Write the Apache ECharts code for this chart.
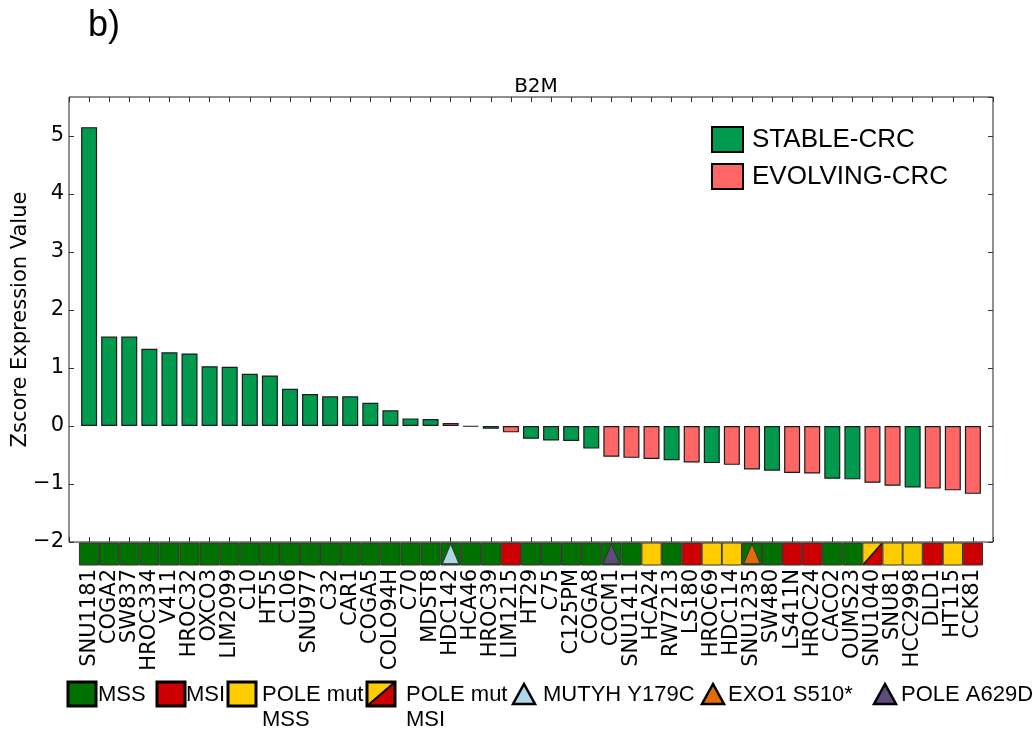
<!DOCTYPE html>
<html>
<head>
<meta charset="utf-8">
<script src="https://cdn.jsdelivr.net/npm/echarts@6/dist/echarts.min.js"></script>
<style>
html,body{margin:0;padding:0;background:#fff;}
#chart{width:1033px;height:731px;}
</style>
</head>
<body>
<div id="chart"></div>
<script>
const categories = ['SNU1181','COGA2','SW837','HROC334','V411','HROC32','OXCO3','LIM2099','C10','HT55','C106','SNU977','C32','CAR1','COGA5','COLO94H','C70','MDST8','HDC142','HCA46','HROC39','LIM1215','HT29','C75','C125PM','COGA8','COCM1','SNU1411','HCA24','RW7213','LS180','HROC69','HDC114','SNU1235','SW480','LS411N','HROC24','CACO2','OUMS23','SNU1040','SNU81','HCC2998','DLD1','HT115','CCK81'];
const zscores = [5.15,1.54,1.54,1.33,1.27,1.25,1.03,1.02,0.90,0.87,0.64,0.55,0.51,0.51,0.40,0.27,0.13,0.12,0.05,-0.01,-0.05,-0.11,-0.22,-0.25,-0.26,-0.39,-0.53,-0.55,-0.57,-0.59,-0.63,-0.64,-0.67,-0.75,-0.77,-0.81,-0.82,-0.91,-0.92,-0.98,-1.03,-1.06,-1.08,-1.11,-1.17];
// S = STABLE-CRC, E = EVOLVING-CRC
const groups = ['S','S','S','S','S','S','S','S','S','S','S','S','S','S','S','S','S','S','E','S','S','E','S','S','S','S','E','E','E','S','E','S','E','E','S','E','E','S','S','E','E','S','E','E','E'];
const msStatus = ['MSS','MSS','MSS','MSS','MSS','MSS','MSS','MSS','MSS','MSS','MSS','MSS','MSS','MSS','MSS','MSS','MSS','MSS','MSS','MSS','MSS','MSI','MSS','MSS','MSS','MSS','MSS','MSS','POLE_MSS','MSS','MSI','POLE_MSS','POLE_MSS','MSS','MSS','MSI','MSI','MSS','MSS','POLE_MSI','POLE_MSS','POLE_MSS','MSI','POLE_MSS','MSI'];
const mutations = ['','','','','','','','','','','','','','','','','','','MUTYH Y179C','','','','','','','','POLE A629D','','','','','','','EXO1 S510*','','','','','','','','','','',''];
const yTicks = {min:-2, max:5.67, interval:1};
const seriesNames = {S:'STABLE-CRC', E:'EVOLVING-CRC'};

const barColors = {S:'#009a4e', E:'#ff6666'};
const statusColors = {MSS:'#007000', MSI:'#cc0000', POLE_MSS:'#ffcc00'};
const mutColors = {'MUTYH Y179C':'#add8e6', 'EXO1 S510*':'#e36c09', 'POLE A629D':'#604a7b'};

const AX_FONT = 'DejaVu Sans';
const LEG_FONT = 'Liberation Sans';

function barData(g){
  return zscores.map((v,i)=> groups[i]===g ? [i, v] : [i, null]);
}

const chart = echarts.init(document.getElementById('chart'), null, {renderer:'canvas'});

const stripData = categories.map((c,i)=>[i, 0]);

function renderStrip(params, api){
  const i = api.value(0);
  const p1 = api.coord([i-0.48, 1]);
  const p2 = api.coord([i+0.48, 0]);
  const x0=p1[0], y0=p1[1], x1=p2[0], y1=p2[1];
  const st = msStatus[i];
  const children = [];
  if (st === 'POLE_MSI'){
    children.push({type:'polygon', shape:{points:[[x0,y0],[x1,y0],[x0,y1]]}, style:{fill:'#ffcc00'}});
    children.push({type:'polygon', shape:{points:[[x1,y0],[x1,y1],[x0,y1]]}, style:{fill:'#cc0000'}});
    children.push({type:'line', shape:{x1:x0,y1:y1,x2:x1,y2:y0}, style:{stroke:'#111', lineWidth:1.5}});
    children.push({type:'rect', shape:{x:x0,y:y0,width:x1-x0,height:y1-y0}, style:{fill:null, stroke:'#333', lineWidth:1}});
  } else {
    children.push({type:'rect', shape:{x:x0,y:y0,width:x1-x0,height:y1-y0}, style:{fill:statusColors[st], stroke:'#333', lineWidth:1}});
  }
  const m = mutations[i];
  if (m){
    const t1 = api.coord([i, 0.95]);
    const bl = api.coord([i-0.41, 0.06]);
    const br = api.coord([i+0.41, 0.06]);
    children.push({type:'polygon', shape:{points:[t1, bl, br]}, style:{fill:mutColors[m], stroke:'#333', lineWidth:1}});
  }
  return {type:'group', children};
}

// bottom annotation key
const keyY = 694;
function keyBox(x, fill, diag){
  const els = [];
  if (diag){
    els.push({type:'polygon', shape:{points:[[x,keyY-12],[x+28,keyY-12],[x,keyY+12]]}, style:{fill:'#ffcc00'}});
    els.push({type:'polygon', shape:{points:[[x+28,keyY-12],[x+28,keyY+12],[x,keyY+12]]}, style:{fill:'#cc0000'}});
    els.push({type:'line', shape:{x1:x,y1:keyY+12,x2:x+28,y2:keyY-12}, style:{stroke:'#000', lineWidth:2}});
    els.push({type:'rect', shape:{x:x,y:keyY-12,width:28,height:24}, style:{fill:null, stroke:'#000', lineWidth:3}});
  } else {
    els.push({type:'rect', shape:{x:x,y:keyY-12,width:28,height:24}, style:{fill:fill, stroke:'#000', lineWidth:3}});
  }
  return els;
}
function keyTri(x, fill){
  return [{type:'polygon', shape:{points:[[x+11,keyY-10],[x,keyY+10],[x+22,keyY+10]]}, style:{fill:fill, stroke:'#000', lineWidth:2.5}}];
}
function keyText(x, txt){
  return {type:'text', x:x, y:keyY-12, style:{text:txt, font:'22px '+LEG_FONT, fill:'#000', lineHeight:25, textVerticalAlign:'top'}};
}

const graphics = [
  {type:'text', left:88, top:8, style:{text:'b)', font:'36px '+LEG_FONT, fill:'#000'}},
  ...keyBox(68, statusColors.MSS), keyText(98, 'MSS'),
  ...keyBox(157, statusColors.MSI), keyText(186, 'MSI'),
  ...keyBox(228, statusColors.POLE_MSS), keyText(262, 'POLE mut\nMSS'),
  ...keyBox(367, null, true), keyText(406, 'POLE mut\nMSI'),
  ...keyTri(513, mutColors['MUTYH Y179C']), keyText(543, 'MUTYH Y179C'),
  ...keyTri(702, mutColors['EXO1 S510*']), keyText(728, 'EXO1 S510*'),
  ...keyTri(874, mutColors['POLE A629D']), keyText(901, 'POLE A629D')
];

const xBase = {
  type:'value', min:-1, max:45, interval:1,
  splitLine:{show:false},
  axisLine:{show:false, onZero:false},
};

const option = {
  animation:false,
  backgroundColor:'#fff',
  title:{text:'B2M', left:531, textAlign:'center', top:72,
    textStyle:{fontFamily:AX_FONT, fontSize:20, fontWeight:'normal', color:'#000'}},
  legend:{
    orient:'vertical', left:706, top:121, itemWidth:31, itemHeight:25, itemGap:10,
    data:[seriesNames.S, seriesNames.E],
    textStyle:{fontFamily:LEG_FONT, fontSize:26, color:'#000', padding:[0,0,0,4]},
    itemStyle:{borderColor:'#000', borderWidth:2},
    icon:'rect', selectedMode:false
  },
  grid:[
    {left:69, top:97, width:924, height:445, show:true, borderColor:'#222', borderWidth:1,
      backgroundColor:'transparent', outerBoundsMode:'none', containLabel:false},
    {left:69, top:543, width:924, height:22, outerBoundsMode:'none', containLabel:false}
  ],
  xAxis:[
    Object.assign({}, xBase, {gridIndex:0, position:'bottom',
      axisTick:{show:true, inside:true, length:5, lineStyle:{color:'#333'}}, axisLabel:{show:false}}),
    Object.assign({}, xBase, {gridIndex:0, position:'top',
      axisTick:{show:true, inside:true, length:5, lineStyle:{color:'#333'}}, axisLabel:{show:false}}),
    Object.assign({}, xBase, {gridIndex:1, position:'bottom',
      axisTick:{show:false},
      axisLabel:{show:true, rotate:90, margin:4, fontFamily:AX_FONT, fontSize:21, color:'#000',
        showMinLabel:false, showMaxLabel:false,
        formatter:(v)=> (Number.isInteger(v) && categories[v]) ? categories[v] : ''}})
  ],
  yAxis:[
    {type:'value', gridIndex:0, position:'left', min:yTicks.min, max:yTicks.max, interval:yTicks.interval,
      name:'Zscore Expression Value', nameLocation:'middle', nameGap:38, nameMoveOverlap:false,
      nameTextStyle:{fontFamily:AX_FONT, fontSize:21, color:'#000'},
      splitLine:{show:false}, axisLine:{show:false, onZero:false},
      axisTick:{show:true, inside:true, length:5, lineStyle:{color:'#333'}},
      axisLabel:{fontFamily:AX_FONT, fontSize:21, color:'#000', margin:5, showMaxLabel:false,
        formatter:(v)=> v<0 ? '\u2212'+Math.abs(v) : String(v)}},
    {type:'value', gridIndex:0, position:'right', min:yTicks.min, max:yTicks.max, interval:yTicks.interval,
      splitLine:{show:false}, axisLine:{show:false, onZero:false},
      axisTick:{show:true, inside:true, length:5, lineStyle:{color:'#333'}},
      axisLabel:{show:false}},
    {type:'value', gridIndex:1, min:0, max:1, show:false, axisLine:{onZero:false}}
  ],
  series:[
    {name:seriesNames.S, type:'bar', xAxisIndex:0, yAxisIndex:0, data:barData('S'), barWidth:16, barGap:'-100%',
      itemStyle:{color:barColors.S, borderColor:'#1a1a1a', borderWidth:1.2}},
    {name:seriesNames.E, type:'bar', xAxisIndex:0, yAxisIndex:0, data:barData('E'), barWidth:16, barGap:'-100%',
      itemStyle:{color:barColors.E, borderColor:'#1a1a1a', borderWidth:1.2}},
    {type:'custom', xAxisIndex:2, yAxisIndex:2, data:stripData, renderItem:renderStrip, clip:false, silent:true}
  ],
  graphic:graphics
};
chart.setOption(option);
</script>
</body>
</html>
